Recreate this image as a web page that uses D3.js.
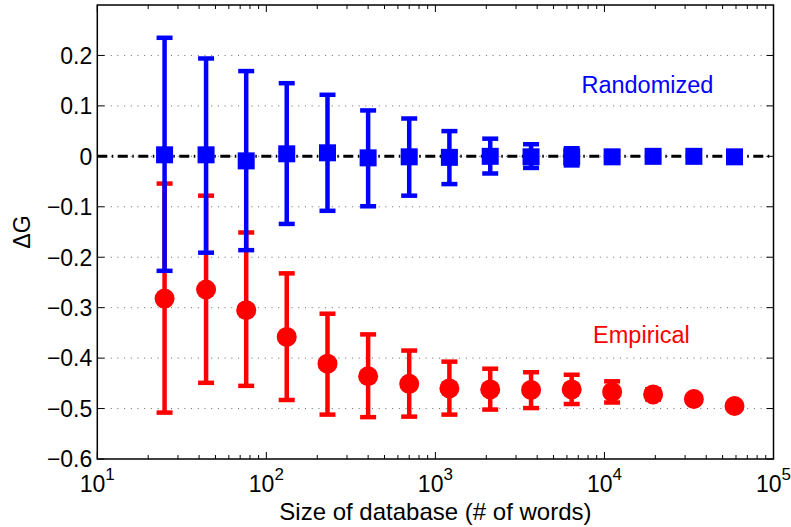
<!DOCTYPE html>
<html>
<head>
<meta charset="utf-8">
<script src="https://cdn.jsdelivr.net/npm/d3@7/dist/d3.min.js"></script>
<style>
  html, body { margin: 0; padding: 0; background: #fff; }
  text { font-family: "Liberation Sans", Arial, sans-serif; }
</style>
</head>
<body>
<svg id="chart" width="791" height="527"></svg>
<script>
// ---- data ----
const sizes = [25, 44, 76, 132, 230, 400, 700, 1210, 2110, 3680, 6400, 11100, 19400, 33800, 58800];

const randMean  = [0.003, 0.003, -0.009, 0.005, 0.007, -0.003, -0.001, -0.002, 0.000, -0.001, -0.001, -0.001, 0.000, 0.000, -0.001];
const randUpper = [0.235, 0.194, 0.169, 0.145, 0.122, 0.091, 0.075, 0.050, 0.035, 0.024, 0.016, 0.009, 0.005, 0.003, 0.002];
const randLower = [-0.227, -0.191, -0.186, -0.134, -0.108, -0.099, -0.078, -0.055, -0.034, -0.023, -0.018, -0.010, -0.005, -0.003, -0.002];

const empMean  = [-0.282, -0.264, -0.305, -0.358, -0.411, -0.436, -0.451, -0.460, -0.462, -0.463, -0.462, -0.467, -0.472, -0.481, -0.495];
const empUpper = [-0.054, -0.078, -0.151, -0.232, -0.312, -0.353, -0.385, -0.407, -0.421, -0.428, -0.433, -0.446, -0.462, -0.475, -0.490];
const empLower = [-0.508, -0.449, -0.455, -0.483, -0.512, -0.517, -0.516, -0.512, -0.502, -0.499, -0.491, -0.488, -0.482, -0.487, -0.500];

const yTicks = [-0.6, -0.5, -0.4, -0.3, -0.2, -0.1, 0, 0.1, 0.2];
const yTickLabels = ["\u22120.6", "\u22120.5", "\u22120.4", "\u22120.3", "\u22120.2", "\u22120.1", "0", "0.1", "0.2"];
const xDecades = [1, 2, 3, 4, 5];

const labels = { x: "Size of database (# of words)", y: "\u0394G", rand: "Randomized", emp: "Empirical" };
const annoRand = { x: 7310, y: 0.125 };
const annoEmp = { x: 8570, y: -0.371 };

// ---- layout ----
const L = 97.3, R = 773.5, T = 5, B = 459;
const svg = d3.select("#chart");
const x = d3.scaleLog().domain([10, 1e5]).range([L, R]);
const y = d3.scaleLinear().domain([-0.6, 0.3]).range([B, T]);

// grid (horizontal dotted)
svg.append("g").selectAll("line").data(yTicks.filter(v => v > -0.6))
  .join("line")
  .attr("x1", L).attr("x2", R)
  .attr("y1", d => y(d)).attr("y2", d => y(d))
  .attr("stroke", "#666").attr("stroke-width", 1)
  .attr("stroke-dasharray", "1,5.7");

// zero reference line (dash-dot)
svg.append("line")
  .attr("x1", L).attr("x2", R)
  .attr("y1", y(0)).attr("y2", y(0))
  .attr("stroke", "#000").attr("stroke-width", 3)
  .attr("stroke-dasharray", "10,4.5,1.5,4.5");

function drawSeries(means, lower, upper, color, shape) {
  const g = svg.append("g");
  const data = sizes.map((s, i) => ({ s, m: means[i], lo: lower[i], hi: upper[i] }));
  const capW = 16, lw = 4.5;
  g.selectAll("line.v").data(data).join("line")
    .attr("x1", d => x(d.s)).attr("x2", d => x(d.s))
    .attr("y1", d => y(d.lo)).attr("y2", d => y(d.hi))
    .attr("stroke", color).attr("stroke-width", lw);
  g.selectAll("line.capHi").data(data).join("line")
    .attr("x1", d => x(d.s) - capW / 2).attr("x2", d => x(d.s) + capW / 2)
    .attr("y1", d => y(d.hi)).attr("y2", d => y(d.hi))
    .attr("stroke", color).attr("stroke-width", lw);
  g.selectAll("line.capLo").data(data).join("line")
    .attr("x1", d => x(d.s) - capW / 2).attr("x2", d => x(d.s) + capW / 2)
    .attr("y1", d => y(d.lo)).attr("y2", d => y(d.lo))
    .attr("stroke", color).attr("stroke-width", lw);
  if (shape === "circle") {
    g.selectAll("circle").data(data).join("circle")
      .attr("cx", d => x(d.s)).attr("cy", d => y(d.m)).attr("r", 10)
      .attr("fill", color);
  } else {
    const sz = 17;
    g.selectAll("rect").data(data).join("rect")
      .attr("x", d => x(d.s) - sz / 2).attr("y", d => y(d.m) - sz / 2)
      .attr("width", sz).attr("height", sz)
      .attr("fill", color);
  }
}
drawSeries(empMean, empLower, empUpper, "#ff0000", "circle");
drawSeries(randMean, randLower, randUpper, "#0000ff", "square");

// axes box
svg.append("rect").attr("x", L).attr("y", T).attr("width", R - L).attr("height", B - T)
  .attr("fill", "none").attr("stroke", "#000").attr("stroke-width", 1.5);

// ticks
const axG = svg.append("g").attr("stroke", "#000").attr("stroke-width", 1);
const majorLen = 7, minorLen = 4;
const minorTicks = [];
[1, 2, 3, 4].forEach(dec => { for (let k = 2; k <= 9; k++) minorTicks.push(k * Math.pow(10, dec)); });
const majorTicks = xDecades.map(d => Math.pow(10, d));
majorTicks.forEach(v => {
  axG.append("line").attr("x1", x(v)).attr("x2", x(v)).attr("y1", B).attr("y2", B - majorLen);
  axG.append("line").attr("x1", x(v)).attr("x2", x(v)).attr("y1", T).attr("y2", T + majorLen);
});
minorTicks.forEach(v => {
  axG.append("line").attr("x1", x(v)).attr("x2", x(v)).attr("y1", B).attr("y2", B - minorLen);
  axG.append("line").attr("x1", x(v)).attr("x2", x(v)).attr("y1", T).attr("y2", T + minorLen);
});
yTicks.forEach(v => {
  axG.append("line").attr("x1", L).attr("x2", L + majorLen).attr("y1", y(v)).attr("y2", y(v));
  axG.append("line").attr("x1", R).attr("x2", R - majorLen).attr("y1", y(v)).attr("y2", y(v));
});

// y tick labels
svg.append("g").selectAll("text").data(yTicks).join("text")
  .attr("x", L - 5).attr("y", d => y(d)).attr("dy", "0.36em")
  .attr("text-anchor", "end").attr("font-size", 23).attr("fill", "#000")
  .text((d, i) => yTickLabels[i]);

// x tick labels 10^n
const xl = svg.append("g").selectAll("text").data(xDecades).join("text")
  .attr("x", d => x(Math.pow(10, d))).attr("y", 492)
  .attr("text-anchor", "middle").attr("font-size", 23).attr("fill", "#000");
xl.append("tspan").text("10");
xl.append("tspan").attr("dy", -12).attr("font-size", 17).text(d => d);

// axis labels
svg.append("text").attr("x", (L + R) / 2).attr("y", 520)
  .attr("text-anchor", "middle").attr("font-size", 24).text(labels.x);
svg.append("text").attr("transform", `translate(30,${(T + B) / 2}) rotate(-90)`)
  .attr("text-anchor", "middle").attr("font-size", 23).text(labels.y);

// annotations
svg.append("text").attr("x", x(annoRand.x)).attr("y", y(annoRand.y))
  .attr("font-size", 23.5).attr("fill", "#0000ff").text(labels.rand);
svg.append("text").attr("x", x(annoEmp.x)).attr("y", y(annoEmp.y))
  .attr("font-size", 23.5).attr("fill", "#ff0000").text(labels.emp);
</script>
</body>
</html>
